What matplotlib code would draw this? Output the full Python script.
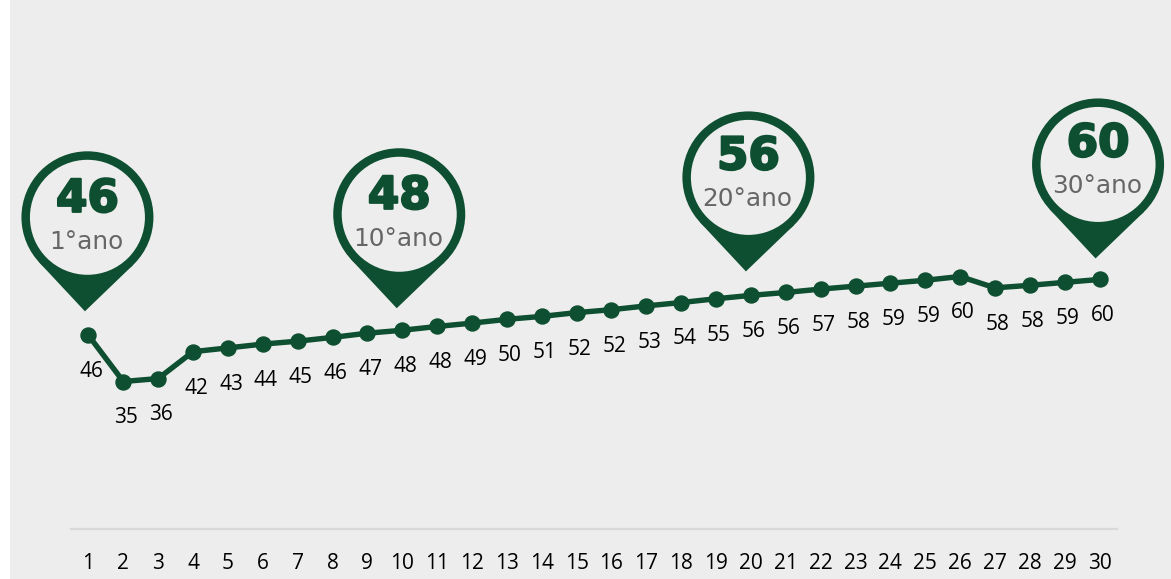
import matplotlib
matplotlib.use("Agg")
import numpy as np
import matplotlib.pyplot as plt
import matplotlib.patheffects as pe
from matplotlib.patches import Circle, Polygon, Rectangle
from matplotlib.transforms import Affine2D

periods = list(range(1, 31))
values = [46.0, 35.0, 35.7, 42.1, 43.0, 43.9, 44.6, 45.5, 46.5, 47.2,
          48.1, 48.9, 49.8, 50.5, 51.4, 52.1, 53.0, 53.8, 54.7, 55.5,
          56.2, 57.0, 57.7, 58.4, 59.1, 60.0, 57.3, 57.9, 58.6, 59.3]
value_labels = [46, 35, 36, 42, 43, 44, 45, 46, 47, 48, 48, 49, 50, 51, 52,
                52, 53, 54, 55, 56, 56, 57, 58, 59, 59, 60, 58, 58, 59, 60]
pin_periods = [1, 10, 20, 30]
pin_values = ["46", "48", "56", "60"]
pin_labels = ["1°ano", "10°ano", "20°ano", "30°ano"]

W, H = 1171, 579
GREEN = "#0d4f30"
BG = "#ededed"
GREY = "#666666"
plt.rcParams["font.family"] = ["Open Sans", "DejaVu Sans"]

fig = plt.figure(figsize=(W / 100, H / 100), dpi=100, facecolor="white")
fig.add_artist(Rectangle((10 / W, 0), (W - 10) / W, 1, transform=fig.transFigure,
                         facecolor=BG, edgecolor="none", zorder=-5))

ax = fig.add_axes([71 / W, (H - 528.5) / H, (1117 - 71) / W, 528.5 / H])
ax.patch.set_alpha(0)
ax.set_xlim(0.5, 30.5)
ax.set_ylim(0, 528.5 / 4.2)
for s in ["top", "left", "right"]:
    ax.spines[s].set_visible(False)
ax.spines["bottom"].set_color("#d9d9d9")
ax.spines["bottom"].set_linewidth(1.6)
ax.set_yticks([])
ax.set_xticks(periods)
ax.set_xticklabels([str(p) for p in periods], fontsize=15, color="#000000")
ax.tick_params(axis="x", length=0, pad=17.5)

ax.plot(periods, values, color=GREEN, lw=3.9, marker="o", ms=10.8,
        mec=GREEN, mfc=GREEN, solid_joinstyle="round", clip_on=False, zorder=3)

for x, y, lab in zip(periods, values, value_labels):
    ax.annotate(str(lab), (x, y), xytext=(2.2, -26.2), textcoords="offset points",
                ha="center", va="center", fontsize=15, color="#000000")

# Pins are placed relative to their data point, working in top-down pixels.
fig.canvas.draw()
to_px = Affine2D().scale(1, -1).translate(0, H)
R_OUT, R_IN = 66, 57.5
pin_shift = {1: (-1, -118), 10: (-3, -116), 20: (-2.5, -118), 30: (-1.5, -115)}
text_lift = {1: 0, 10: 0, 20: 2.5, 30: 2.5}


def draw_pin(cx, cy):
    tip = np.array([cx - 2.5, cy + 94.0])
    d = tip - np.array([cx, cy])
    dist = np.hypot(*d)
    base = np.arctan2(d[1], d[0])
    off = np.arccos(R_OUT / dist)
    p1 = (cx + R_OUT * np.cos(base - off), cy + R_OUT * np.sin(base - off))
    p2 = (cx + R_OUT * np.cos(base + off), cy + R_OUT * np.sin(base + off))
    tr = to_px
    fig.add_artist(Polygon([p1, tuple(tip), p2, (cx, cy)], closed=True, facecolor=GREEN,
                           edgecolor="none", transform=tr, zorder=4))
    fig.add_artist(Circle((cx, cy), R_OUT, facecolor=GREEN, edgecolor="none",
                          transform=tr, zorder=4))
    fig.add_artist(Circle((cx, cy), R_IN, facecolor=BG, edgecolor="none",
                          transform=tr, zorder=5))


for period, val, lab in zip(pin_periods, pin_values, pin_labels):
    px, py = ax.transData.transform((period, values[period - 1]))
    py = H - py
    dx, dy = pin_shift[period]
    cx, cy = px + dx, py + dy
    lift = text_lift[period]
    draw_pin(cx, cy)
    fig.text(cx, cy - 18 - lift, val, transform=to_px, ha="center", va="center",
             fontsize=32.5, fontweight="bold", family="DejaVu Sans", color=GREEN, zorder=6,
             path_effects=[pe.withStroke(linewidth=1.6, foreground=GREEN)])
    fig.text(cx - 1, cy + 24.5 - lift, lab, transform=to_px, ha="center", va="center",
             fontsize=17.8, family="DejaVu Sans", color=GREY, zorder=6)

fig.savefig("out.png", dpi=100, facecolor="white")
